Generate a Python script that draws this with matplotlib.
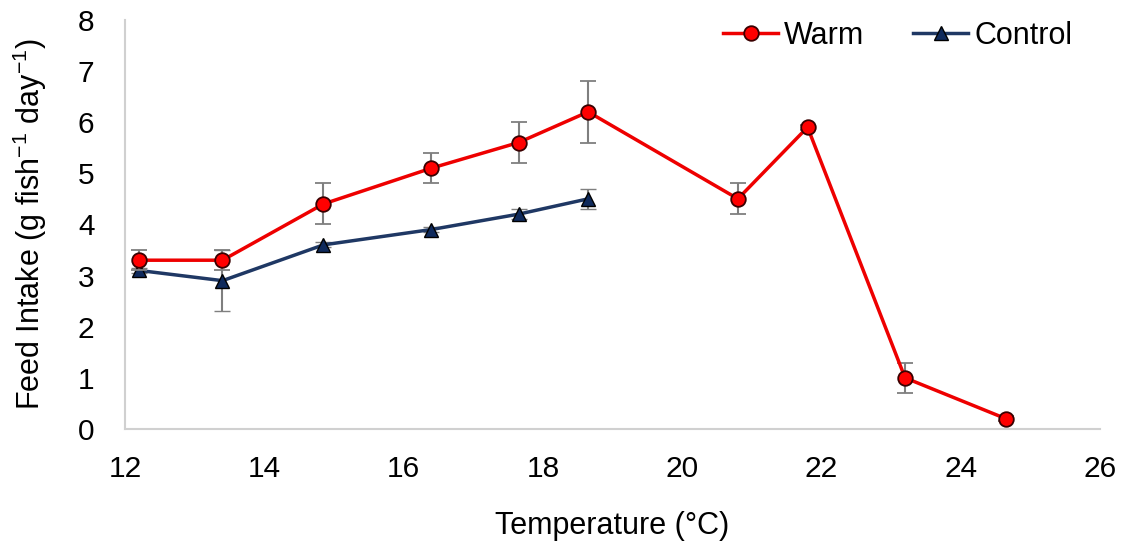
import numpy as np
import matplotlib.pyplot as plt
from matplotlib.lines import Line2D

plt.rcParams['font.family'] = ['Liberation Sans', 'DejaVu Sans']
plt.rcParams['mathtext.fontset'] = 'custom'
plt.rcParams['mathtext.rm'] = 'Liberation Sans'

# feed intake vs temperature
temp_warm = [12.2, 13.4, 14.85, 16.4, 17.65, 18.65, 20.8, 21.8, 23.2, 24.65]
intake_warm = [3.3, 3.3, 4.4, 5.1, 5.6, 6.2, 4.5, 5.9, 1.0, 0.2]
err_warm = [0.2, 0.2, 0.4, 0.3, 0.4, 0.6, 0.3, 0.05, 0.3, 0.05]

temp_control = [12.2, 13.4, 14.85, 16.4, 17.65, 18.65]
intake_control = [3.1, 2.9, 3.6, 3.9, 4.2, 4.5]
err_control = [0.05, 0.6, 0.05, 0.05, 0.1, 0.2]

warm_style = dict(color="#EE0000", lw=2.5, marker="o", ms=10.5, mfc="#FF0000",
                  mec="#3A0000", mew=1.3)
ctrl_style = dict(color="#1F3864", lw=2.5, marker="^", ms=10.5, mfc="#0F2A5C",
                  mec="#000000", mew=1.0)

fig = plt.figure(figsize=(11.26, 5.5), dpi=100)
ax = fig.add_axes([0.111, 0.22, 0.866, 0.744])

ax.errorbar(temp_warm, intake_warm, yerr=err_warm, ecolor="#7F7F7F",
            elinewidth=1.5, capsize=6, capthick=1.5, zorder=3, **warm_style)
ax.errorbar(temp_control, intake_control, yerr=err_control, ecolor="#7F7F7F",
            elinewidth=1.5, capsize=6, capthick=1.5, zorder=2, **ctrl_style)

ax.set_xlim(12, 26)
ax.set_ylim(0, 8)
ax.set_xticks(np.arange(12, 27, 2))
ax.set_yticks(np.arange(0, 9, 1))
ax.tick_params(axis="x", length=0, labelsize=21.5, pad=19)
ax.tick_params(axis="y", length=0, labelsize=21.5, pad=22)

for s in ["top", "right"]:
    ax.spines[s].set_visible(False)
for s in ["left", "bottom"]:
    ax.spines[s].set_color("#D0D0D0")
    ax.spines[s].set_linewidth(1.5)

ax.set_xlabel("Temperature (°C)", fontsize=22)
ax.set_ylabel(r"Feed Intake (g fish$^{\mathregular{-1}}$ day$^{\mathregular{-1}}$)", fontsize=22)
ax.xaxis.set_label_coords(0.5, -0.2)
ax.yaxis.set_label_coords(-0.078, 0.5)

handles = [Line2D([], [], **warm_style), Line2D([], [], **ctrl_style)]
ax.legend(handles, ["Warm", "Control"], loc="upper right", ncol=2, frameon=False,
          fontsize=22, bbox_to_anchor=(1.0, 1.065), handlelength=1.8,
          handletextpad=0.2, columnspacing=1.6)

plt.savefig("out.png", dpi=100)
